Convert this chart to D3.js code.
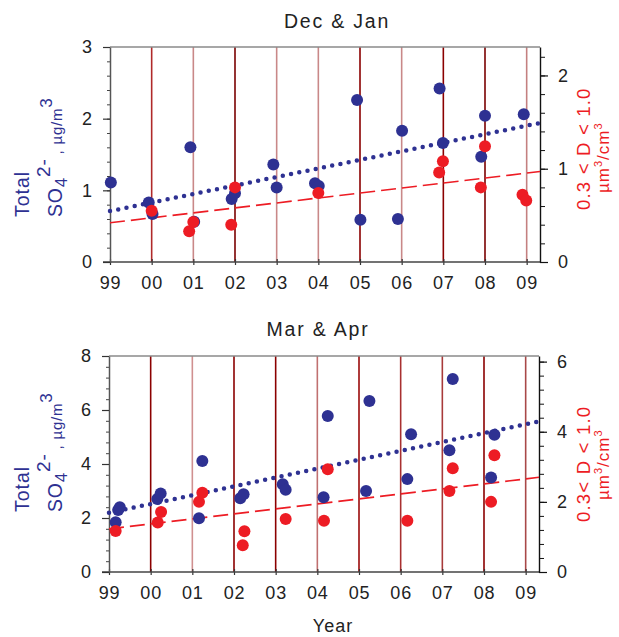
<!DOCTYPE html>
<html>
<head>
<meta charset="utf-8">
<script src="https://cdn.jsdelivr.net/npm/d3@7"></script>
<style>
body { margin: 0; background: #fff; }
text { font-family: "Liberation Sans", Arial, sans-serif; }
</style>
</head>
<body>
<svg id="chart" width="619" height="637"></svg>
<script>
// ---- data ----
const yearTicks = [1999, 2000, 2001, 2002, 2003, 2004, 2005, 2006, 2007, 2008, 2009]
const yearLabels = ['99', '00', '01', '02', '03', '04', '05', '06', '07', '08', '09']

// colours of the vertical year lines (00 .. 09)
const decJanLineColors = ['#b02a2a', '#c98888', '#7a0000', '#c98888', '#c98888', '#8b0000', '#c98888', '#8b0000', '#7a0000', '#c48080']
const marAprLineColors = ['#8b0000', '#d09090', '#8b0000', '#8b0000', '#c07070', '#9a0a0a', '#a83030', '#a83a3a', '#8b0000', '#a84848']

// Dec & Jan: total sulfate (left axis) [decimal year, ug/m3]
const decJanSO4 = [
	[1999.02, 1.11], [1999.93, 0.83], [2000.02, 0.67], [2000.93, 1.60], [2001.02, 0.56],
	[2001.92, 0.88], [2002.00, 0.96], [2002.92, 1.36], [2003.00, 1.04], [2003.92, 1.10],
	[2004.01, 1.06], [2004.93, 2.26], [2005.01, 0.59], [2005.91, 0.60], [2006.01, 1.83],
	[2006.91, 2.42], [2006.99, 1.66], [2007.91, 1.47], [2008.00, 2.04], [2008.93, 2.06]
]
// Dec & Jan: 0.3<D<1.0 volume (right axis) [decimal year, um3/cm3]
const decJanVol = [
	[2000.00, 0.55], [2000.90, 0.33], [2001.00, 0.43], [2001.91, 0.40], [2002.00, 0.80],
	[2004.00, 0.74], [2006.90, 0.96], [2006.99, 1.08], [2007.90, 0.80], [2008.00, 1.24],
	[2008.90, 0.72], [2008.99, 0.66]
]
const decJanSO4Trend = [[1999, 0.71], [2009.32, 1.94]]
const decJanVolTrend = [[1999, 0.42], [2009.32, 0.97]]

// Mar & Apr
const marAprSO4 = [
	[1999.16, 1.84], [1999.22, 2.30], [1999.26, 2.40], [2000.16, 2.70], [2000.24, 2.91],
	[2001.16, 1.99], [2001.24, 4.11], [2002.15, 2.73], [2002.23, 2.88], [2003.17, 3.25],
	[2003.24, 3.05], [2004.15, 2.77], [2004.25, 5.78], [2005.17, 3.00], [2005.25, 6.33],
	[2006.16, 3.44], [2006.25, 5.10], [2007.17, 4.51], [2007.25, 7.15], [2008.17, 3.50],
	[2008.25, 5.08]
]
const marAprVol = [
	[1999.16, 1.17], [2000.17, 1.41], [2000.25, 1.71], [2001.16, 2.00], [2001.24, 2.26],
	[2002.21, 0.76], [2002.25, 1.16], [2003.24, 1.51], [2004.16, 1.46], [2004.25, 2.93],
	[2006.16, 1.46], [2007.17, 2.31], [2007.25, 2.96], [2008.17, 2.00], [2008.25, 3.33]
]
const marAprSO4Trend = [[1999, 2.19], [2009.32, 5.58]]
const marAprVolTrend = [[1999, 1.23], [2009.32, 2.70]]

const blue = '#2e3192'
const red = '#ed1c24'

const svg = d3.select('#chart')

const panels = [
	{
		title: 'Dec & Jan', titleX: 337, titleY: 28,
		left: 110, right: 540, top: 47, bottom: 262,
		leftMax: 3, leftMajor: [0, 1, 2, 3], leftMinor: d3.range(0, 3.01, 0.2),
		rightMax: 2.305, rightMajor: [0, 1, 2], rightMinor: d3.range(0, 2.21, 0.2),
		lineColors: decJanLineColors,
		so4: decJanSO4, vol: decJanVol, so4Trend: decJanSO4Trend, volTrend: decJanVolTrend,
		labelStart: 217, rightLabel: '0.3 < D < 1.0', rightStart: 210, unitStart: 193
	},
	{
		title: 'Mar & Apr', titleX: 318, titleY: 336,
		left: 109, right: 539, top: 356, bottom: 572,
		leftMax: 8, leftMajor: [0, 2, 4, 6, 8], leftMinor: d3.range(0, 8.01, 0.4),
		rightMax: 6.16, rightMajor: [0, 2, 4, 6], rightMinor: d3.range(0, 6.01, 0.4),
		lineColors: marAprLineColors,
		so4: marAprSO4, vol: marAprVol, so4Trend: marAprSO4Trend, volTrend: marAprVolTrend,
		labelStart: 512, rightLabel: '0.3< D < 1.0', rightStart: 522, unitStart: 500
	}
]

panels.forEach(p => drawPanel(p))

svg.append('text')
	.attr('x', 333).attr('y', 632)
	.attr('text-anchor', 'middle')
	.attr('font-size', 18).attr('letter-spacing', 1)
	.attr('fill', '#222')
	.text('Year')

function drawPanel(p) {
	const x = d3.scaleLinear().domain([1999, 2009.32]).range([p.left, p.right])
	const yL = d3.scaleLinear().domain([0, p.leftMax]).range([p.bottom, p.top])
	const yR = d3.scaleLinear().domain([0, p.rightMax]).range([p.bottom, p.top])

	const g = svg.append('g')

	// title
	g.append('text')
		.attr('x', p.titleX).attr('y', p.titleY)
		.attr('text-anchor', 'middle')
		.attr('font-size', 19.5).attr('letter-spacing', 1.8)
		.attr('fill', '#222')
		.text(p.title)

	// vertical year lines
	g.append('g').selectAll('line')
		.data(yearTicks.slice(1))
		.enter().append('line')
		.attr('x1', d => x(d)).attr('x2', d => x(d))
		.attr('y1', p.top).attr('y2', p.bottom)
		.attr('stroke', (d, i) => p.lineColors[i])
		.attr('stroke-width', 1.6)

	// top frame
	g.append('line')
		.attr('x1', p.left).attr('x2', p.right)
		.attr('y1', p.top).attr('y2', p.top)
		.attr('stroke', '#8a8a8a').attr('stroke-width', 1.5)

	// x axis
	const xAxis = d3.axisBottom(x).tickValues(yearTicks).tickSize(6).tickPadding(11)
		.tickFormat((d, i) => yearLabels[i])
	const gx = g.append('g').attr('transform', `translate(0,${p.bottom - 3})`).call(xAxis)
	gx.select('.domain').remove()
	gx.selectAll('.tick line').attr('stroke', '#333').attr('stroke-width', 1.2)
	gx.selectAll('.tick text').attr('font-size', 18).attr('fill', '#222')
		.attr('font-family', '"Liberation Sans", Arial, sans-serif').attr('letter-spacing', 0.8)
	g.append('line')
		.attr('x1', p.left - 7).attr('x2', p.right)
		.attr('y1', p.bottom).attr('y2', p.bottom)
		.attr('stroke', '#444').attr('stroke-width', 1.3)

	// left axis
	const gyMinor = g.append('g').attr('transform', `translate(${p.left},0)`)
		.call(d3.axisLeft(yL).tickValues(p.leftMinor).tickSize(3).tickFormat(''))
	gyMinor.select('.domain').remove()
	gyMinor.selectAll('.tick line').attr('stroke', '#444')
	const gy = g.append('g').attr('transform', `translate(${p.left},0)`)
		.call(d3.axisLeft(yL).tickValues(p.leftMajor).tickSize(7).tickPadding(11)
			.tickSizeOuter(0).tickFormat(d3.format('d')))
	gy.select('.domain').attr('stroke', '#555').attr('stroke-width', 1.5)
	gy.selectAll('.tick line').attr('stroke', '#333').attr('stroke-width', 1.2)
	gy.selectAll('.tick text').attr('font-size', 18).attr('fill', '#222')
		.attr('font-family', '"Liberation Sans", Arial, sans-serif')

	// right axis
	const grMinor = g.append('g').attr('transform', `translate(${p.right},0)`)
		.call(d3.axisRight(yR).tickValues(p.rightMinor).tickSize(5).tickFormat(''))
	grMinor.select('.domain').remove()
	grMinor.selectAll('.tick line').attr('stroke', '#111')
	const gr = g.append('g').attr('transform', `translate(${p.right},0)`)
		.call(d3.axisRight(yR).tickValues(p.rightMajor).tickSize(8).tickPadding(10)
			.tickSizeOuter(0).tickFormat(d3.format('d')))
	gr.select('.domain').attr('stroke', '#111').attr('stroke-width', 1.4)
	gr.selectAll('.tick line').attr('stroke', '#111').attr('stroke-width', 1.2)
	gr.selectAll('.tick text').attr('font-size', 18).attr('fill', '#222')
		.attr('font-family', '"Liberation Sans", Arial, sans-serif')

	// trend lines
	g.append('path')
		.datum(p.so4Trend)
		.attr('d', d3.line().x(d => x(d[0])).y(d => yL(d[1])))
		.attr('fill', 'none')
		.attr('stroke', blue).attr('stroke-width', 4.5)
		.attr('stroke-linecap', 'round').attr('stroke-dasharray', '0,8.4')
	g.append('path')
		.datum(p.volTrend)
		.attr('d', d3.line().x(d => x(d[0])).y(d => yR(d[1])))
		.attr('fill', 'none')
		.attr('stroke', red).attr('stroke-width', 1.6)
		.attr('stroke-dasharray', '15,6')

	// points
	g.append('g').selectAll('circle')
		.data(p.so4)
		.enter().append('circle')
		.attr('cx', d => x(d[0])).attr('cy', d => yL(d[1]))
		.attr('r', 6).attr('fill', blue)
	g.append('g').selectAll('circle')
		.data(p.vol)
		.enter().append('circle')
		.attr('cx', d => x(d[0])).attr('cy', d => yR(d[1]))
		.attr('r', 6).attr('fill', red)

	// left axis title
	g.append('text')
		.attr('transform', `translate(29,${p.labelStart}) rotate(-90)`)
		.attr('font-size', 19.5).attr('letter-spacing', 1).attr('fill', blue)
		.text('Total')
	const so = g.append('text')
		.attr('transform', `translate(62,${p.labelStart}) rotate(-90)`)
		.attr('font-size', 19.5).attr('letter-spacing', 0.8).attr('fill', blue)
	so.append('tspan').text('SO')
	so.append('tspan').attr('dy', 5).attr('font-size', 17).text('4')
	so.append('tspan').attr('dy', -17).attr('font-size', 19).text('2-')
	so.append('tspan').attr('dy', 12).attr('font-size', 15).attr('dx', 4).text(', \u00b5g/m')
	so.append('tspan').attr('dy', -10).attr('font-size', 17).text('3')

	// right axis title
	g.append('text')
		.attr('transform', `translate(590,${p.rightStart}) rotate(-90)`)
		.attr('font-size', 18.5).attr('letter-spacing', 1.2).attr('fill', red)
		.text(p.rightLabel)
	const un = g.append('text')
		.attr('transform', `translate(609,${p.unitStart}) rotate(-90)`)
		.attr('font-size', 17).attr('letter-spacing', 1).attr('fill', red)
	un.append('tspan').text('\u00b5m')
	un.append('tspan').attr('dy', -7).attr('font-size', 11).text('3')
	un.append('tspan').attr('dy', 7).text('/cm')
	un.append('tspan').attr('dy', -7).attr('font-size', 11).text('3')
}
</script>
</body>
</html>
